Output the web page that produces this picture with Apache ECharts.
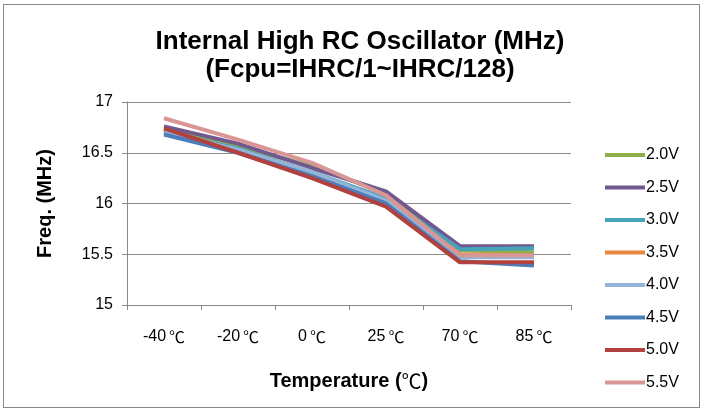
<!DOCTYPE html>
<html>
<head>
<meta charset="utf-8">
<script src="https://cdn.jsdelivr.net/npm/echarts@6/dist/echarts.min.js"></script>
<style>
  html, body { margin: 0; padding: 0; background: #fff; }
  #frame { position: absolute; left: 3px; top: 4px; width: 697px; height: 404px; border: 1px solid #888; box-sizing: border-box; }
  #chart { width: 706px; height: 412px; }
</style>
</head>
<body>
<div id="frame"></div>
<div id="chart"></div>
<script>
// 温度点
var temps = ['-40℃', '-20℃', '0℃', '25℃', '70℃', '85℃'];
// 各电压下的频率 (MHz)
var v20 = [16.73, 16.56, 16.37, 16.10, 15.54, 15.52];
var v25 = [16.76, 16.59, 16.35, 16.12, 15.58, 15.58];
var v30 = [16.71, 16.54, 16.31, 16.05, 15.55, 15.56];
var v35 = [16.72, 16.52, 16.29, 16.02, 15.50, 15.49];
var v40 = [16.70, 16.53, 16.31, 16.03, 15.47, 15.47];
var v45 = [16.68, 16.50, 16.27, 16.00, 15.43, 15.39];
var v50 = [16.74, 16.50, 16.25, 15.97, 15.42, 15.42];
var v55 = [16.84, 16.63, 16.40, 16.08, 15.49, 15.49];
var names = ['2.0V', '2.5V', '3.0V', '3.5V', '4.0V', '4.5V', '5.0V', '5.5V'];
var values = [v20, v25, v30, v35, v40, v45, v50, v55];
var colors = ['#8CAE4C', '#71588F', '#46A3BA', '#E8883E', '#95B3D7', '#4A7EBB', '#B0413E', '#D99694'];

var font = '"Liberation Sans", Arial, sans-serif';
var cjk = '"Noto Sans CJK SC", sans-serif';
var chart = echarts.init(document.getElementById('chart'));

var series = [];
for (var i = 0; i < names.length; i++) {
    series.push({
        name: names[i],
        type: 'line',
        data: values[i],
        symbol: 'none',
        lineStyle: { width: 4, color: colors[i] },
        itemStyle: { color: colors[i] }
    });
}

chart.setOption({
    animation: false,
    color: colors,
    title: {
        text: 'Internal High RC Oscillator (MHz)\n(Fcpu=IHRC/1~IHRC/128)',
        left: 355,
        top: 23,
        textAlign: 'center',
        textStyle: { fontFamily: font, fontSize: 26, fontWeight: 'bold', color: '#000', lineHeight: 28 }
    },
    legend: {
        orient: 'vertical',
        left: 600,
        top: 142,
        icon: 'rect',
        itemWidth: 40,
        itemHeight: 4,
        itemGap: 16.5,
        data: names,
        textStyle: { fontFamily: font, fontSize: 16, color: '#000', padding: [0, 0, 0, -4] }
    },
    grid: { left: 127, right: 135, top: 102, bottom: 107 },
    xAxis: {
        type: 'category',
        data: temps,
        name: '{t|Temperature (}{c|℃}{t|)}',
        nameLocation: 'middle',
        nameGap: 66,
        nameTextStyle: {
            rich: {
                t: { fontFamily: font, fontSize: 20, fontWeight: 'bold', color: '#000' },
                c: { fontFamily: cjk, fontSize: 20, fontWeight: 'normal', color: '#000' }
            }
        },
        axisLine: { lineStyle: { color: '#888' } },
        axisTick: { show: true, interval: 0, length: 5, lineStyle: { color: '#888' } },
        axisLabel: {
            margin: 24,
            interval: 0,
            hideOverlap: false,
            formatter: function (v) { return '{t|' + v.replace('℃', '') + '}{c|℃}'; },
            rich: {
                t: { fontFamily: font, fontSize: 16, color: '#000' },
                c: { fontFamily: cjk, fontSize: 16, color: '#000', padding: [0, 0, 0, 3] }
            }
        }
    },
    yAxis: {
        type: 'value',
        min: 15,
        max: 17,
        interval: 0.5,
        name: 'Freq. (MHz)',
        nameLocation: 'middle',
        nameGap: 72,
        nameTextStyle: { fontFamily: font, fontSize: 20, fontWeight: 'bold', color: '#000' },
        axisLine: { show: true, lineStyle: { color: '#888' } },
        axisTick: { show: true, length: 5, lineStyle: { color: '#888' } },
        axisLabel: { fontFamily: font, fontSize: 16, color: '#000', margin: 14 },
        splitLine: { lineStyle: { color: '#8c8c8c' } }
    },
    series: series
});
</script>
</body>
</html>
